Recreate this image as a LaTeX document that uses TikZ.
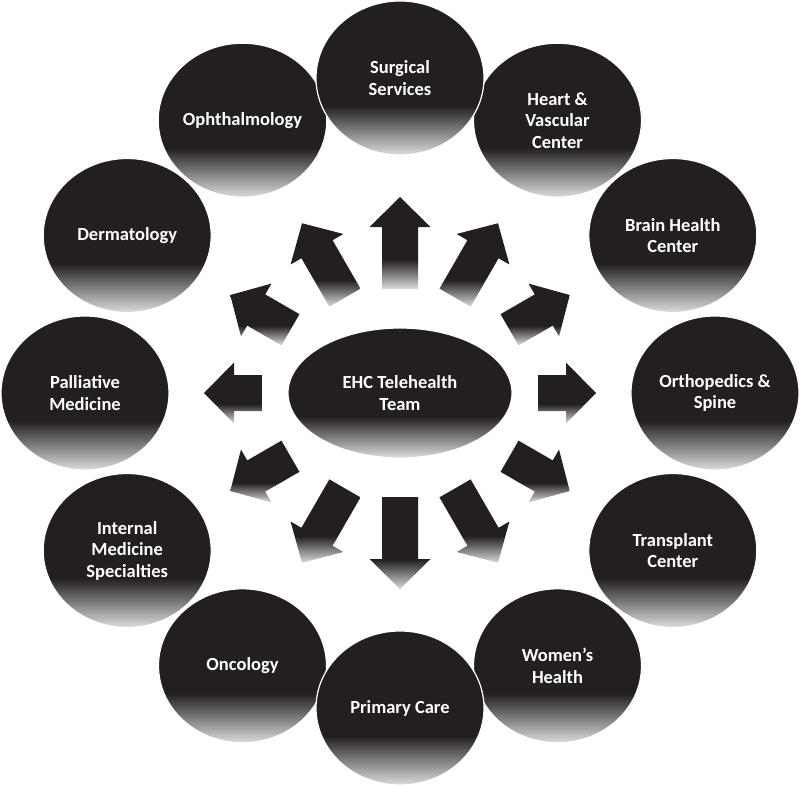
\documentclass[tikz,border=0pt]{standalone}
\usepackage{fontspec}
\setmainfont{Carlito}
\usetikzlibrary{shapes.geometric,calc}
\definecolor{dk}{HTML}{231F20}
\definecolor{fadelight}{HTML}{DCDCDC}
\pgfdeclareverticalshading{fade}{100bp}{color(0bp)=(fadelight); color(25bp)=(fadelight); color(41bp)=(dk); color(100bp)=(dk)}
\tikzset{
  circ/.style={ellipse, minimum width=168pt, minimum height=154pt, inner sep=0pt,
    shading=fade, draw=white, line width=1.2pt, text=white, align=center,
    font=\bfseries\fontsize{18.5}{21.5}\selectfont},
  hub/.style={circ, minimum width=224pt, minimum height=130pt},
  blockarrow/.style={shading=fade}
}
\begin{document}
\begin{tikzpicture}[x=1pt,y=1pt]
\useasboundingbox (0,0) rectangle (800,-787);
\coordinate (C) at (400,-393);
% block arrows
\foreach \t in {0,30,...,330} {
  \pgfmathsetmacro\r{100/sqrt((100*cos(\t)/138)^2+(100*sin(\t)/104)^2)}
  \path[blockarrow]
    ($(C)+(\t:\r)+({\t+90}:18)$) coordinate (a\t)
    -- ($(C)+(\t:166)+({\t+90}:18)$)
    -- ($(C)+(\t:166)+({\t+90}:30.5)$)
    -- ($(C)+(\t:196)$) coordinate (tip\t)
    -- ($(C)+(\t:166)+({\t-90}:30.5)$)
    -- ($(C)+(\t:166)+({\t-90}:18)$)
    -- ($(C)+(\t:\r)+({\t-90}:18)$)
    -- cycle;
}
% centre
\node[hub] (team) at (C) {EHC Telehealth\\Team};
% surrounding circles
\node[circ] (pal)  at (85,-393)      {Palliative\\Medicine};
\node[circ] (orth) at (715,-393)     {Orthopedics \&\\Spine};
\node[circ] (derm) at (127.2,-235.5) {Dermatology};
\node[circ] (brain) at (672.8,-235.5) {Brain Health\\Center};
\node[circ] (intm) at (127.2,-550.5) {Internal\\Medicine\\Specialties};
\node[circ] (trans) at (672.8,-550.5) {Transplant\\Center};
\node[circ] (oph)  at (242.5,-120.2) {Ophthalmology};
\node[circ] (heart) at (557.5,-120.2) {Heart \&\\Vascular\\Center};
\node[circ] (onc)  at (242.5,-665.8) {Oncology};
\node[circ] (wom)  at (557.5,-665.8) {Women’s\\Health};
\node[circ] (surg) at (400,-78)      {Surgical\\Services};
\node[circ] (prim) at (400,-708)     {Primary Care};
\end{tikzpicture}
\end{document}
